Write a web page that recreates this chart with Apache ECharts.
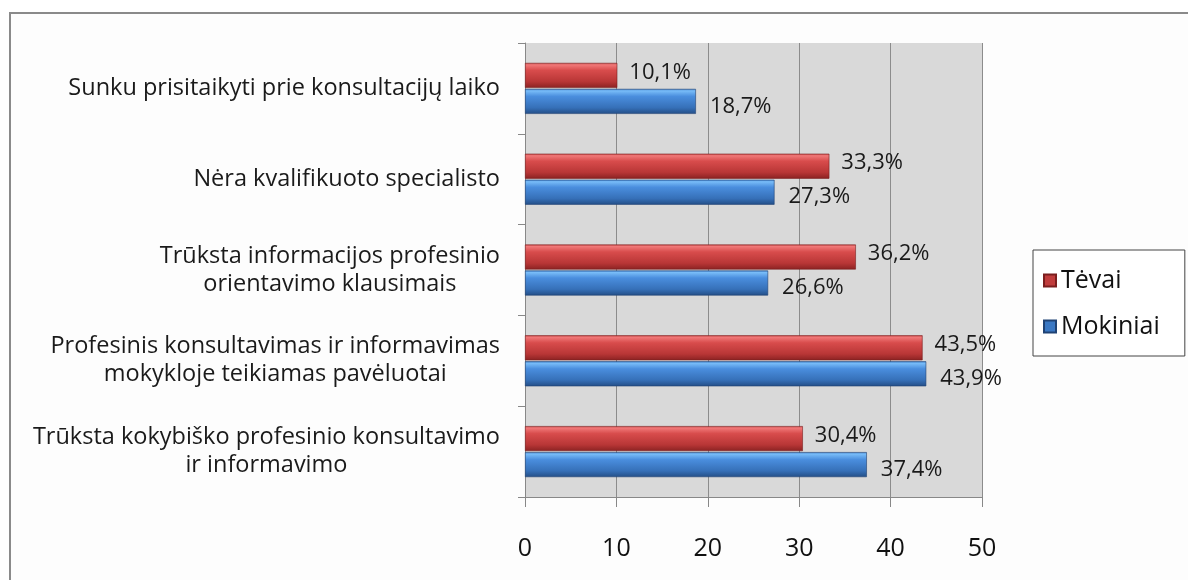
<!DOCTYPE html>
<html><head><meta charset="utf-8">
<script src="https://cdn.jsdelivr.net/npm/echarts@6/dist/echarts.min.js"></script>
<style>
html,body{margin:0;padding:0;background:#fff;}
#frame{position:absolute;left:9px;top:12px;width:1300px;height:700px;border:2px solid #8a8a8a;background:#fdfdfd;}
#chart{position:absolute;left:0;top:0;width:1188px;height:580px;}
</style></head>
<body>
<div id="frame"></div>
<div id="chart"></div>
<script>
// categories listed top to bottom as in the picture
const categories = [
  "Sunku prisitaikyti prie konsultacijų laiko",
  "Nėra kvalifikuoto specialisto",
  "Trūksta informacijos profesinio\norientavimo klausimais",
  "Profesinis konsultavimas ir informavimas\nmokykloje teikiamas pavėluotai",
  "Trūksta kokybiško profesinio konsultavimo\nir informavimo"
];
const tevai = [10.1, 33.3, 36.2, 43.5, 30.4];
const mokiniai = [18.7, 27.3, 26.6, 43.9, 37.4];
const xTicks = [0, 10, 20, 30, 40, 50];

const FONT = '"Open Sans"';
const chart = echarts.init(document.getElementById('chart'), null, {renderer: 'canvas'});

const redGrad = new echarts.graphic.LinearGradient(0, 0, 0, 1, [
  {offset: 0, color: '#c84848'},
  {offset: 0.08, color: '#f07878'},
  {offset: 0.3, color: '#d84c4c'},
  {offset: 0.75, color: '#b83636'},
  {offset: 1, color: '#8a2222'}
]);
const blueGrad = new echarts.graphic.LinearGradient(0, 0, 0, 1, [
  {offset: 0, color: '#3f80cc'},
  {offset: 0.08, color: '#78bcf8'},
  {offset: 0.3, color: '#4a8ede'},
  {offset: 0.75, color: '#3670b8'},
  {offset: 1, color: '#244e86'}
]);

const fmtPct = p => String(p.value).replace('.', ',') + '%';

chart.setOption({
  animation: false,
  textStyle: {fontFamily: FONT},
  grid: {left: 525, right: 206, top: 43, bottom: 83, show: true, backgroundColor: '#d9d9d9', borderWidth: 0},
  legend: {
    orient: 'vertical',
    left: 1033, top: 250,
    padding: [18, 25, 17, 10],
    itemGap: 21,
    itemWidth: 12, itemHeight: 12,
    borderColor: '#444', borderWidth: 1,
    backgroundColor: '#fff',
    textStyle: {fontSize: 25, color: '#111', fontFamily: FONT},
    data: [
      {name: 'Tėvai', icon: 'rect', itemStyle: {color: '#c03c3c'}},
      {name: 'Mokiniai', icon: 'rect', itemStyle: {color: '#3a78c4'}}
    ]
  },
  xAxis: {
    type: 'value', min: xTicks[0], max: xTicks[xTicks.length - 1], interval: 10,
    axisLine: {show: true, lineStyle: {color: '#888', width: 1}},
    axisTick: {show: true, length: 10, inside: false, lineStyle: {color: '#888'}},
    splitLine: {show: true, lineStyle: {color: '#8c8c8c', width: 1}},
    axisLabel: {fontSize: 25, color: '#111', margin: 39, fontFamily: FONT}
  },
  yAxis: {
    type: 'category',
    inverse: true,
    data: categories,
    axisLine: {show: true, lineStyle: {color: '#888'}},
    axisTick: {show: true, length: 7, lineStyle: {color: '#888'}},
    splitLine: {show: false},
    axisLabel: {
      margin: 25,
      fontSize: 23.5, color: '#1a1a1a', fontFamily: FONT,
      lineHeight: 28,
      formatter: v => v.split('\n').map(l => '{c|' + l + '}').join('\n'),
      rich: {c: {align: 'center', fontSize: 23.5, lineHeight: 28, color: '#1a1a1a', fontFamily: FONT}}
    }
  },
  series: [
    {
      name: 'Tėvai', type: 'bar', data: tevai,
      barWidth: 25, barGap: '4%',
      itemStyle: {color: redGrad, borderColor: '#7a1e1e', borderWidth: 0.6},
      label: {show: true, position: 'right', distance: 12, offset: [0, -3], formatter: fmtPct, fontSize: 22, color: '#1a1a1a', fontFamily: FONT}
    },
    {
      name: 'Mokiniai', type: 'bar', data: mokiniai,
      barWidth: 25, barGap: '4%',
      itemStyle: {color: blueGrad, borderColor: '#1f4274', borderWidth: 0.6},
      label: {show: true, position: 'right', distance: 14, offset: [0, 5], formatter: fmtPct, fontSize: 22, color: '#1a1a1a', fontFamily: FONT}
    }
  ]
});
</script>
</body></html>
